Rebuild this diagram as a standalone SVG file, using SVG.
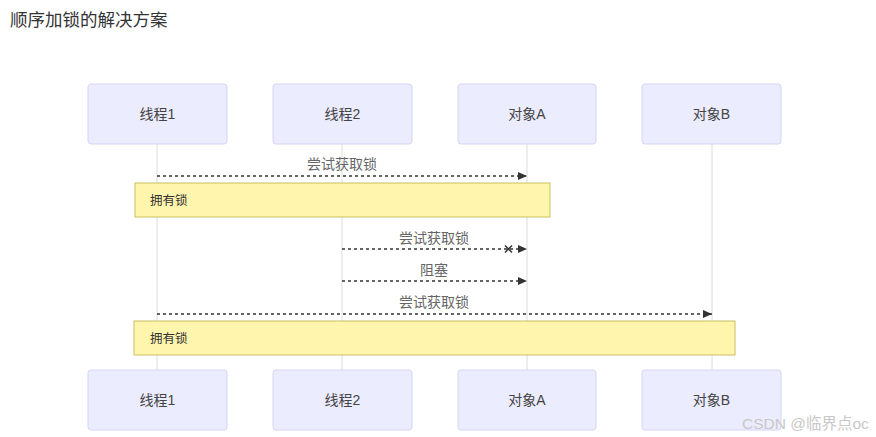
<svg xmlns="http://www.w3.org/2000/svg" width="876" height="437" viewBox="0 0 876 437">
<defs>
<style>
text{font-family:"Liberation Sans","Noto Sans CJK SC",sans-serif;}
.actor rect{fill:#ECECFF;stroke:#D4D4F5;stroke-width:1;}
.actor text{font-size:14px;fill:#444;text-anchor:middle;dominant-baseline:central;}
.life{stroke:#dcdcdc;stroke-width:1;}
.msg{stroke:#333;stroke-width:1.3;stroke-dasharray:3,3;fill:none;}
.lbl{font-size:14px;fill:#666;text-anchor:middle;}
.note rect{fill:#FFF5AD;stroke:#C8C060;stroke-width:1;}
.note text{font-size:12.5px;fill:#333;dominant-baseline:central;}
</style>
<marker id="arr" markerWidth="10" markerHeight="8" refX="9" refY="4" orient="auto" markerUnits="userSpaceOnUse">
<path d="M0,0 L9,4 L0,8 z" fill="#333"/>
</marker>
</defs>
<rect width="876" height="437" fill="#fff"/>
<text x="10" y="26" style="font-size:17.5px;fill:#333;">顺序加锁的解决方案</text>
<g id="lifelines">
<line class="life" x1="157" y1="144" x2="157" y2="370"/>
<line class="life" x1="342" y1="144" x2="342" y2="370"/>
<line class="life" x1="527" y1="144" x2="527" y2="370"/>
<line class="life" x1="712" y1="144" x2="712" y2="370"/>
</g>
<g id="actor-t1-top" class="actor"><rect x="88" y="84" width="139" height="60" rx="3"/><text x="157.5" y="114">线程1</text></g>
<g id="actor-t2-top" class="actor"><rect x="273" y="84" width="139" height="60" rx="3"/><text x="342.5" y="114">线程2</text></g>
<g id="actor-a-top" class="actor"><rect x="458" y="84" width="138" height="60" rx="3"/><text x="527" y="114">对象A</text></g>
<g id="actor-b-top" class="actor"><rect x="642" y="84" width="139" height="60" rx="3"/><text x="711.5" y="114">对象B</text></g>
<g id="actor-t1-bottom" class="actor"><rect x="88" y="370" width="139" height="60" rx="3"/><text x="157.5" y="400">线程1</text></g>
<g id="actor-t2-bottom" class="actor"><rect x="273" y="370" width="139" height="60" rx="3"/><text x="342.5" y="400">线程2</text></g>
<g id="actor-a-bottom" class="actor"><rect x="458" y="370" width="138" height="60" rx="3"/><text x="527" y="400">对象A</text></g>
<g id="actor-b-bottom" class="actor"><rect x="642" y="370" width="139" height="60" rx="3"/><text x="711.5" y="400">对象B</text></g>
<g id="note1" class="note"><rect x="135" y="183" width="415" height="34"/><text x="150" y="201">拥有锁</text></g>
<g id="note2" class="note"><rect x="134" y="321" width="601" height="34"/><text x="150" y="339">拥有锁</text></g>
<g id="connectors">
<text class="lbl" x="342" y="169">尝试获取锁</text>
<line class="msg" x1="157" y1="176" x2="527" y2="176" marker-end="url(#arr)"/>
<text class="lbl" x="434" y="243">尝试获取锁</text>
<line class="msg" x1="342" y1="249" x2="527" y2="249" marker-end="url(#arr)"/>
<path d="M505,245.5 L512,252.5 M512,245.5 L505,252.5" stroke="#333" stroke-width="1.5"/>
<text class="lbl" x="434" y="275">阻塞</text>
<line class="msg" x1="342" y1="281" x2="527" y2="281" marker-end="url(#arr)"/>
<text class="lbl" x="434" y="307">尝试获取锁</text>
<line class="msg" x1="157" y1="314" x2="712" y2="314" marker-end="url(#arr)"/>
</g>
<text x="742" y="429" style="font-size:15.5px;fill:#c8c8c8;">CSDN @临界点oc</text>
</svg>
